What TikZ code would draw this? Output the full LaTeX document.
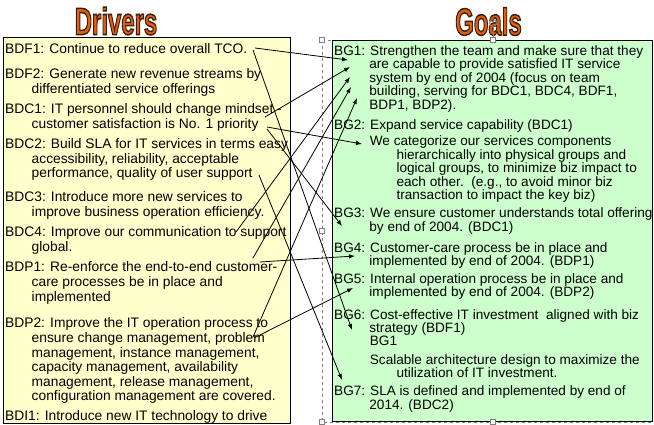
\documentclass[tikz,border=0pt]{standalone}
\usepackage{fontspec}
\setmainfont{Liberation Sans}
\usetikzlibrary{arrows.meta,positioning}
\definecolor{driverfill}{RGB}{255,255,204}
\definecolor{goalfill}{RGB}{204,255,204}
\definecolor{titleorange}{RGB}{232,94,8}
\newcommand{\ind}{\hspace*{26.5pt}}
\newcommand{\gind}{\hspace*{35.2pt}}
\newcommand{\sind}{\hspace*{26.6pt}}
\newcommand{\titletext}[1]{\scalebox{0.63}[1]{\special{pdf:literal direct 0.22 0.12 0.06 RG 1.5 w 2 Tr}#1\special{pdf:literal direct 0 Tr}}}

\begin{document}
\begin{tikzpicture}[
   x=1pt, y=-1pt,
   heading/.style={inner sep=0, text=titleorange,
      font=\fontsize{38}{38}\selectfont\bfseries},
   drvbox/.style={draw, line width=1.2pt, fill=driverfill, anchor=north west,
      inner sep=0, minimum width=287pt, minimum height=386pt},
   goalbox/.style={draw, line width=1.2pt, fill=goalfill, anchor=north west,
      inner sep=0, minimum width=320pt, minimum height=381pt},
   para/.style={anchor=north west, inner sep=0, align=left,
      font=\fontsize{13.8}{14.6}\selectfont},
   gpara/.style={para, font=\fontsize{13.6}{13.5}\selectfont},
   selframe/.style={draw=gray, dashed, line width=0.5pt},
   handle/.style={draw=gray, fill=white, line width=0.5pt, inner sep=0,
      minimum size=5pt},
   link/.style={-{Latex[length=6pt,width=4.5pt]}, line width=0.8pt}
]
\useasboundingbox (0,0) rectangle (654,425);

\node[heading] (drv) at (116,21) {\titletext{Drivers}};
\node[heading] (gls) at (488.5,21.5) {\titletext{Goals}};

\node[drvbox] (dbox) at (3,37) {};
\node[goalbox] (gbox) at (332,40) {};

\node[para] (bdf1) at (5,43.3) {BDF1: Continue to reduce overall TCO.};
\node[para] (bdf2) at (5,68.3) {BDF2: Generate new revenue streams by\\
   \ind differentiated service offerings};
\node[para] (bdc1) at (5,103.3) {BDC1: IT personnel should change mindset -\\
   \ind customer satisfaction is No. 1 priority};
\node[para] (bdc2) at (5,138.3) {BDC2: Build SLA for IT services in terms easy\\
   \ind accessibility, reliability, acceptable\\
   \ind performance, quality of user support};
\node[para] (bdc3) at (5,191.7) {BDC3: Introduce more new services to\\
   \ind improve business operation efficiency.};
\node[para] (bdc4) at (5,226.7) {BDC4: Improve our communication to support\\
   \ind global.};
\node[para] (bdp1) at (5,261.7) {BDP1: Re-enforce the end-to-end customer-\\
   \ind care processes be in place and\\
   \ind implemented};
\node[para] (bdp2) at (5,317.7) {BDP2: Improve the IT operation process to\\
   \ind ensure change management, problem\\
   \ind management, instance management,\\
   \ind capacity management, availability\\
   \ind management, release management,\\
   \ind configuration management are covered.};
\node[para] (bdi1) at (5,410) {BDI1: Introduce new IT technology to drive};

\node[gpara] (bg1) at (334,45) {BG1: Strengthen the team and make sure that they\\
   \gind are capable to provide satisfied IT service\\
   \gind system by end of 2004 (focus on team\\
   \gind building, serving for BDC1, BDC4, BDF1,\\
   \gind BDP1, BDP2).};
\node[gpara] (bg2) at (334,119) {BG2: Expand service capability (BDC1)};
\node[gpara] (bg2a) at (369.7,135.5) {We categorize our services components\\
   \sind hierarchically into physical groups and\\
   \sind logical groups, to minimize biz impact to\\
   \sind each other.\ \ (e.g., to avoid minor biz\\
   \sind transaction to impact the key biz)};
\node[gpara] (bg3) at (334,207.7) {BG3: We ensure customer understands total offering\\
   \gind by end of 2004. (BDC1)};
\node[gpara] (bg4) at (334,242.3) {BG4: Customer-care process be in place and\\
   \gind implemented by end of 2004. (BDP1)};
\node[gpara] (bg5) at (334,273.3) {BG5: Internal operation process be in place and\\
   \gind implemented by end of 2004. (BDP2)};
\node[gpara] (bg6) at (334,309) {BG6: Cost-effective IT investment\ \ aligned with biz\\
   \gind strategy (BDF1)};
\node[gpara] (bg6a) at (369.7,335.7) {BG1};
\node[gpara] (bg6b) at (369.7,354.3) {Scalable architecture design to maximize the\\
   \sind utilization of IT investment.};
\node[gpara] (bg7) at (334,385.7) {BG7: SLA is defined and implemented by end of\\
   \gind 2014. (BDC2)};

\draw[selframe] (322,40) -- (332,40);
\draw[selframe] (322,40) -- (322,422) -- (654,422);
\foreach \p [count=\i] in {(322,40),(322,231),(322,422),(493,40),(493,422)}
   \node[handle] (h\i) at \p {};
\node[draw=gray, circle, line width=0.8pt, inner sep=0, minimum size=7pt]
   (rot) at (493,23) {};
\draw[gray, line width=0.5pt] (rot) -- (h4);

\coordinate (bdf1a) at (255,48);
\coordinate (bdf1b) at (253,50);
\coordinate (bdc1a) at (265,117);
\coordinate (bdc1b) at (267,127);
\coordinate (bdc1c) at (267,129);
\coordinate (bdc2a) at (259,175);
\coordinate (bdc4a) at (236,232);
\coordinate (bdp1a) at (253,258);
\coordinate (bdp1b) at (260,262);
\coordinate (bdp2a) at (253,337);
\coordinate (bdp2b) at (254,338);

\coordinate (bg1a) at (348,60);
\coordinate (bg1b) at (350,67);
\coordinate (bg1c) at (350,77);
\coordinate (bg1d) at (351,87);
\coordinate (bg1e) at (357,98);
\coordinate (bg2in) at (362,144);
\coordinate (bg3in) at (342,226);
\coordinate (bg4in) at (355,256);
\coordinate (bg5in) at (353,288);
\coordinate (bg6in) at (352,330);
\coordinate (bg7in) at (342,380);

\draw[link] (bdf1a) -- (bg1a);
\draw[link] (bdf1b) -- (bg6in);
\draw[link] (bdc1a) -- (bg1b);
\draw[link] (bdc1b) -- (bg2in);
\draw[link] (bdc1c) -- (bg3in);
\draw[link] (bdc2a) -- (bg7in);
\draw[link] (bdc4a) -- (bg1c);
\draw[link] (bdp1a) -- (bg1d);
\draw[link] (bdp1b) -- (bg4in);
\draw[link] (bdp2a) -- (bg1e);
\draw[link] (bdp2b) -- (bg5in);
\end{tikzpicture}
\end{document}
